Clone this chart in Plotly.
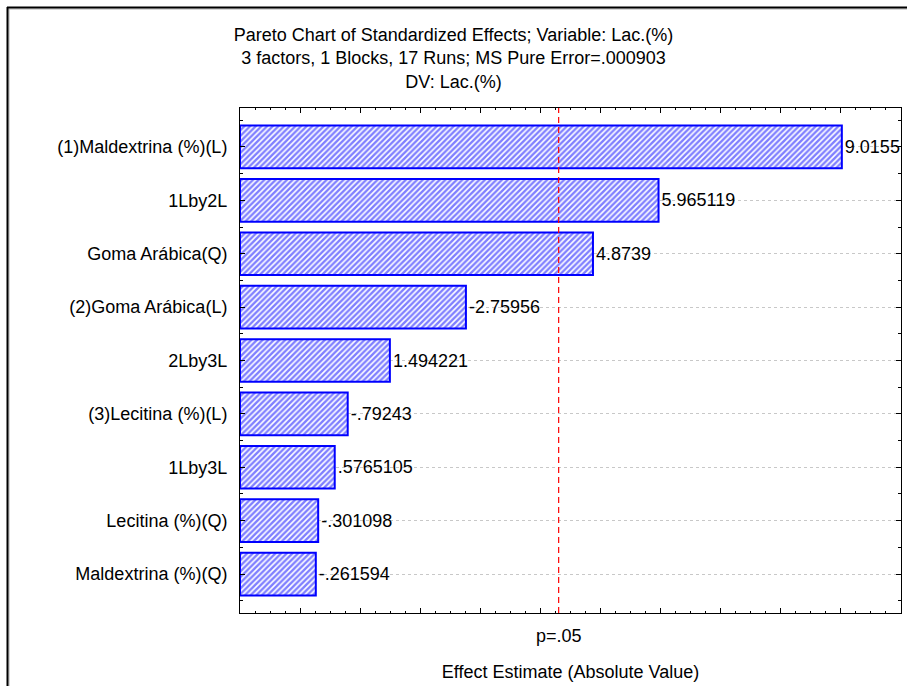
import plotly.graph_objects as go

# Pareto chart of standardized effects (Statistica style)
factors = [
    "(1)Maldextrina (%)(L)",
    "1Lby2L",
    "Goma Arábica(Q)",
    "(2)Goma Arábica(L)",
    "2Lby3L",
    "(3)Lecitina (%)(L)",
    "1Lby3L",
    "Lecitina (%)(Q)",
    "Maldextrina (%)(Q)",
]
effects = [9.0155, 5.965119, 4.8739, -2.75956, 1.494221, -0.79243, 0.5765105, -0.301098, -0.261594]
t_crit = 4.303          # t(0.025, df=2) significance threshold
crit_label = "p=.05"

title_lines = [
    "Pareto Chart of Standardized Effects; Variable: Lac.(%)",
    "3 factors, 1 Blocks, 17 Runs; MS Pure Error=.000903",
    "DV: Lac.(%)",
]
x_title = "Effect Estimate (Absolute Value)"

X_MIN, X_MAX = -1, 10
FONT = "Liberation Sans, Arial, sans-serif"
FS = 18
W, H = 907, 686
ML, MR, MT, MB = 240, 6, 108, 73


def fmt(v):
    s = repr(v)
    if s.startswith("-0."):
        s = "-" + s[2:]
    elif s.startswith("0."):
        s = s[1:]
    return s


n = len(factors)
pos = list(range(n))
abs_eff = [abs(v) for v in effects]

fig = go.Figure()
fig.add_trace(go.Bar(
    y=pos,
    x=[a - X_MIN for a in abs_eff],
    base=X_MIN,
    orientation="h",
    width=0.8,
    marker=dict(
        color="white",
        line=dict(color="#0000ff", width=2),
        pattern=dict(shape="/", fgcolor="#0000ff", bgcolor="white", size=4, solidity=0.6),
    ),
    text=[fmt(v) for v in effects],
    textposition="outside",
    textfont=dict(family=FONT, size=FS, color="black"),
    constraintext="none",
    cliponaxis=False,
    hoverinfo="skip",
))

# invisible marker so the labelled bottom axis (x2) is drawn
fig.add_trace(go.Scatter(x=[t_crit], y=[0], xaxis="x2", mode="markers",
                         marker=dict(opacity=0), hoverinfo="skip"))

# significance line
fig.add_shape(type="line", xref="x", yref="y domain", x0=t_crit, x1=t_crit, y0=0, y1=1,
              line=dict(color="#ff0000", width=1.2, dash="6px,4px"), layer="above")

# outer frame (top and left edges)
px_x = lambda p: (p - ML) / (W - ML - MR)
px_y = lambda p: (H - MB - p) / (H - MT - MB)
fig.add_shape(type="line", xref="paper", yref="paper", x0=px_x(8), x1=px_x(W + 5),
              y0=px_y(9), y1=px_y(9), line=dict(color="#b0b0b0", width=1))
fig.add_shape(type="line", xref="paper", yref="paper", x0=px_x(9), x1=px_x(9),
              y0=px_y(9), y1=px_y(H + 5), line=dict(color="#b0b0b0", width=1))
fig.add_shape(type="line", xref="paper", yref="paper", x0=px_x(7), x1=px_x(W + 5),
              y0=px_y(7.5), y1=px_y(7.5), line=dict(color="black", width=2))
fig.add_shape(type="line", xref="paper", yref="paper", x0=px_x(7.5), x1=px_x(7.5),
              y0=px_y(7), y1=px_y(H + 5), line=dict(color="black", width=2))

fig.update_layout(
    width=W, height=H,
    margin=dict(l=ML, r=MR, t=MT, b=MB, autoexpand=False),
    paper_bgcolor="white", plot_bgcolor="white",
    showlegend=False,
    font=dict(family=FONT, size=FS, color="black"),
    title=dict(text="<br>".join(title_lines), x=0.5, xref="container", xanchor="center",
               y=1 - 41 / H, yanchor="top", yref="container",
               font=dict(family=FONT, size=FS, color="black")),
    xaxis=dict(
        range=[X_MIN, X_MAX], showgrid=False, zeroline=False,
        showline=True, linecolor="black", linewidth=1, mirror="ticks",
        tickmode="array", tickvals=list(range(X_MIN, X_MAX + 1)),
        ticks="inside", ticklen=5, tickcolor="black", showticklabels=False,
        minor=dict(dtick=0.25, tick0=0, ticks="inside", ticklen=2, tickcolor="black"),
    ),
    xaxis2=dict(
        overlaying="x", anchor="y", side="bottom", range=[X_MIN, X_MAX],
        showgrid=False, zeroline=False, showline=False,
        tickmode="array", tickvals=[t_crit], ticktext=[crit_label], ticks="",
        ticklabelstandoff=10,
        tickfont=dict(family=FONT, size=FS, color="black"),
        title=dict(text=x_title, standoff=20, font=dict(family=FONT, size=FS, color="black")),
    ),
    yaxis=dict(
        range=[n - 1 + 0.73, -0.73], zeroline=False,
        showgrid=True, gridcolor="#c8c8c8", griddash="dot", gridwidth=1,
        showline=True, linecolor="black", linewidth=1, mirror="ticks",
        tickmode="array", tickvals=pos, ticktext=factors,
        ticks="inside", ticklen=5, tickcolor="black", ticklabelstandoff=8,
        tickfont=dict(family=FONT, size=FS, color="black"),
        minor=dict(dtick=0.5, tick0=0.5, ticks="inside", ticklen=3, tickcolor="black"),
    ),
)

fig.write_html("out.html")
